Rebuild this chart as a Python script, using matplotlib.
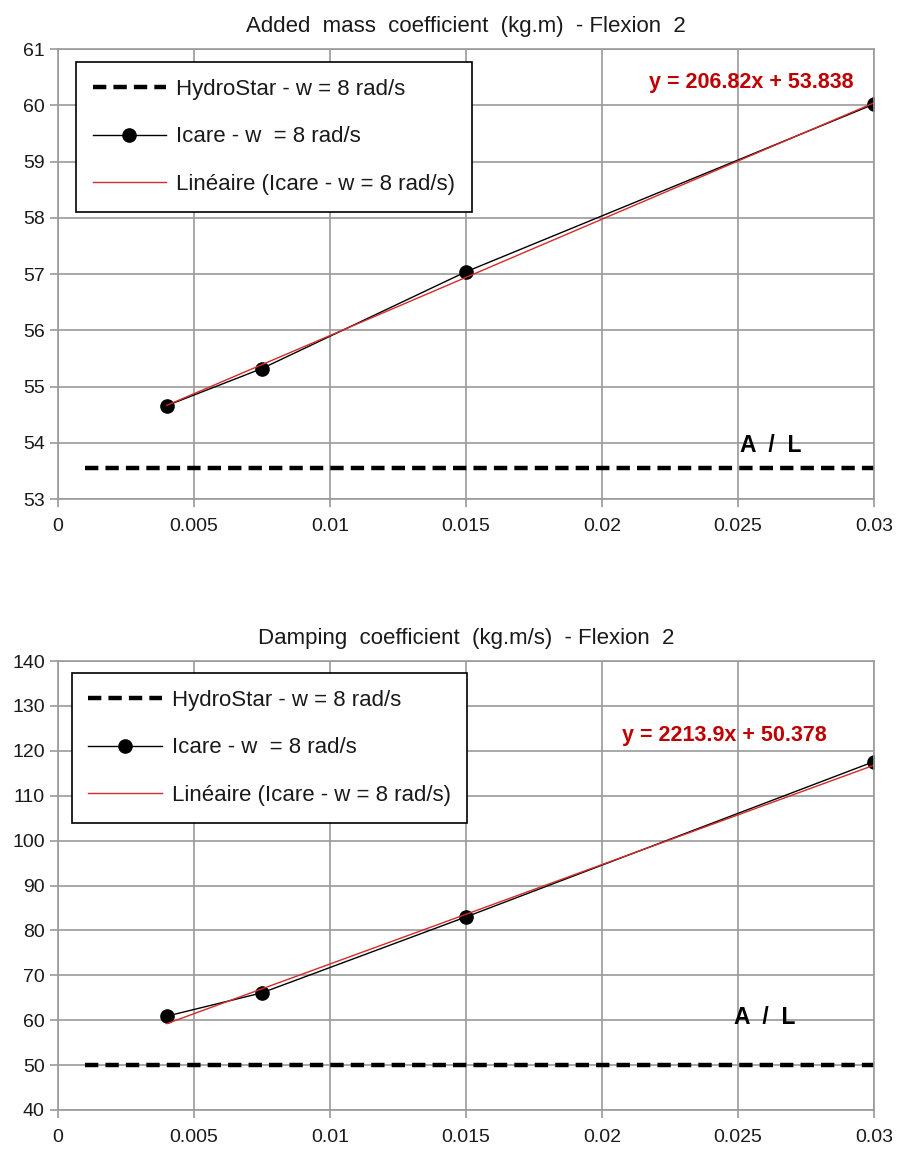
import numpy as np
import matplotlib
matplotlib.use("Agg")
import matplotlib.pyplot as plt

plt.rcParams['font.family'] = ['Liberation Sans', 'DejaVu Sans']

''' Data '''
x_icare = [0.004, 0.0075, 0.015, 0.03]
x_hydro = [0.001, 0.03]

added_icare = [54.66, 55.32, 57.04, 60.02]
added_hydro = [53.55, 53.55]
added_fit = (206.82, 53.838)

damp_icare = [60.9, 66.1, 83.0, 117.6]
damp_hydro = [50.0, 50.0]
damp_fit = (2213.9, 50.378)

titles = ["Added  mass  coefficient  (kg.m)  - Flexion  2",
          "Damping  coefficient  (kg.m/s)  - Flexion  2"]
labels = ["HydroStar - w = 8 rad/s", "Icare - w  = 8 rad/s",
          "Linéaire (Icare - w = 8 rad/s)"]
eq_texts = ["y = 206.82x + 53.838", "y = 2213.9x + 50.378"]
x_ticks = [0, 0.005, 0.01, 0.015, 0.02, 0.025, 0.03]
x_ticklabels = ["0", "0.005", "0.01", "0.015", "0.02", "0.025", "0.03"]

GRID = '#9a9a9a'
RED = '#c00000'

fig = plt.figure(figsize=(9, 11.53), dpi=100)
ax1 = fig.add_axes([0.0644, 0.5672, 0.9067, 0.3903])
ax2 = fig.add_axes([0.0644, 0.0373, 0.9067, 0.3894])


def draw(ax, y_icare, y_hydro, fit, title, eq, eq_pos, al_pos, ylim, ystep, leg_anchor):
    ax.plot(x_hydro, y_hydro, color='black', lw=3.2, ls=(0, (3.0, 1.6)), label=labels[0])
    ax.plot(x_icare, y_icare, color='black', lw=1.0, marker='o', ms=9.5, label=labels[1])
    xf = np.array([x_icare[0], x_icare[-1]])
    ax.plot(xf, fit[0] * xf + fit[1], color='#d42a2a', lw=1.0, label=labels[2])

    ax.set_xlim(0, 0.03)
    ax.set_ylim(*ylim)
    ax.set_xticks(x_ticks)
    ax.set_xticklabels(x_ticklabels)
    ax.set_yticks(np.arange(ylim[0], ylim[1] + ystep / 2, ystep))
    ax.grid(True, color=GRID, lw=1.2)
    ax.set_axisbelow(True)
    for s in ax.spines.values():
        s.set_color(GRID)
        s.set_linewidth(1.2)
    ax.tick_params(axis='both', colors=GRID, labelcolor='#1a1a1a', labelsize=14,
                   length=6, width=1.2)
    ax.tick_params(axis='x', pad=8)
    ax.set_title(title, fontsize=16, pad=12, color='#1a1a1a')

    ax.text(eq_pos[0], eq_pos[1], eq, color=RED, fontsize=15.5, fontweight='bold',
            ha='center', va='center')
    ax.text(al_pos[0], al_pos[1], "A  /  L", color='black', fontsize=16.5,
            fontweight='bold', ha='center', va='center')

    leg = ax.legend(loc='upper left', bbox_to_anchor=leg_anchor, fontsize=16,
                    frameon=True, fancybox=False, edgecolor='black',
                    framealpha=1, handlelength=3.3, handletextpad=0.45,
                    labelspacing=1.2, borderpad=0.75, borderaxespad=0)
    leg.get_frame().set_linewidth(1.2)
    for t in leg.get_texts():
        t.set_color('#1a1a1a')


draw(ax1, added_icare, added_hydro, added_fit, titles[0], eq_texts[0],
     (0.0255, 60.41), (0.0262, 53.96), (53, 61), 1, (0.022, 0.971))
draw(ax2, damp_icare, damp_hydro, damp_fit, titles[1], eq_texts[1],
     (0.0245, 123.3), (0.026, 60.5), (40, 140), 10, (0.017, 0.973))

plt.savefig("out.png", dpi=100)
